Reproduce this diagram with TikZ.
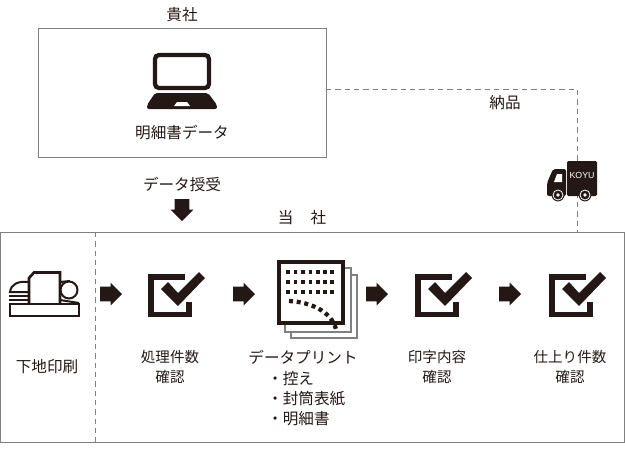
\documentclass[tikz,border=0pt]{standalone}
\usepackage{xcolor}
\usepackage{fontspec}
\setmainfont{Noto Sans CJK JP}
\newfontfamily\truckfont{Liberation Sans}
\usepackage{tikz}
\usetikzlibrary{shapes.arrows}
\definecolor{inkblack}{HTML}{231815}
\definecolor{framegray}{HTML}{808080}

\begin{document}
\begin{tikzpicture}[x=0.75pt,y=-0.75pt,text=inkblack,font=\fontsize{11.7pt}{15pt}\selectfont]
        \tikzstyle{frame}=[draw=framegray,line width=0.55pt]
        \tikzstyle{dashline}=[draw=framegray,line width=0.55pt,dash pattern=on 4pt off 3pt]
        \tikzstyle{blockarrow}=[single arrow,fill=inkblack,draw=none,inner sep=5.25pt,outer sep=0pt,minimum height=16.5pt,minimum width=16.5pt,single arrow head extend=3pt,anchor=tail]
        \tikzstyle{caption}=[align=center,inner sep=0pt]
        \tikzstyle{stepcaption}=[caption,font=\fontsize{10.9pt}{15pt}\selectfont]
        \tikzstyle{item}=[anchor=west,inner sep=0pt]
        \tikzset{
            pics/checkbox/.style={code={
                \draw[inkblack,line width=3.9pt] (2,2) rectangle (40,39.5);
                \fill[white] (36,-1) rectangle (43,27);
                \draw[white,line width=7pt,line join=miter] (15,10) -- (29,25) -- (53,0);
                \fill[inkblack] (12,14) -- (19,7) -- (29,18) -- (50,-3) -- (56,3) -- (29,31) -- cycle;
            }}
        }
        \useasboundingbox (0,0) rectangle (625,450);

        % boxes
        \node[frame,minimum width=216pt,minimum height=96.75pt,inner sep=0pt] (client) at (182,92.5) {};
        \node[frame,minimum width=468pt,minimum height=157.5pt,inner sep=0pt] (company) at (312,337) {};
        \coordinate (sendout) at (326,89);
        \coordinate (corner) at (577,89);
        \coordinate (arrive) at (577,232);
        \coordinate (divtop) at (95,232);
        \coordinate (divbot) at (95,442);
        \draw[dashline] (sendout) -- (corner) -- (arrive);
        \draw[dashline] (divtop) -- (divbot);

        % laptop
        \draw[inkblack,line width=3.2pt,rounded corners=3pt] (155,55) rectangle (209,88);
        \fill[inkblack,rounded corners=1.5pt] (155,93) -- (208,93) -- (217,105) -- (217,109) -- (147,109) -- (147,105) -- cycle;
        \fill[white] (177,102) -- (187,102) -- (190,106) -- (174,106) -- cycle;

        % truck
        \fill[inkblack,rounded corners=1pt] (567,161) rectangle (597,196);
        \fill[inkblack,rounded corners=1.5pt] (566,169) -- (553,169) -- (547,183) -- (547,196) -- (566,196) -- cycle;
        \fill[white] (554,182) -- (557,174) -- (562,174) -- (562,182) -- cycle;
        \foreach \wx in {558,585} {
            \fill[inkblack] (\wx,195) circle (6.4);
            \draw[white,line width=0.6pt] (\wx,195) circle (5);
            \fill[white] (\wx,195) circle (1.9);
        }
        \node[text=white,inner sep=0pt] (koyu) at (582,175) {\truckfont\fontsize{6.6pt}{6.6pt}\selectfont KOYU};

        % printer
        \draw[inkblack,line width=2pt] (10,304) rectangle (79,316);
        \draw[inkblack,line width=2pt] (29,303) -- (29,278) -- (34,272.5) -- (60,272.5) -- (60,303);
        \draw[inkblack,line width=1.5pt] (69,290) circle (8.5);
        \draw[inkblack,line width=1.5pt] (60,282) -- (70,281);
        \draw[inkblack,line width=1.5pt] (60,300) -- (79,303);
        \draw[inkblack,line width=1.5pt] (28,282) .. controls (18,281) and (11,284) .. (10,292) -- (28,292);
        \foreach \ly in {296,300} {
            \draw[inkblack,line width=1.2pt] (9,\ly) -- (28,\ly);
        }

        % check marks
        \pic at (149,275) {checkbox};
        \pic at (416,275) {checkbox};
        \pic at (550,275) {checkbox};

        % sheets
        \draw[framegray,line width=1.3pt] (291,332) -- (291,338) -- (357,338) -- (357,275) -- (351,275);
        \draw[framegray,line width=1.3pt] (285,324) -- (285,332) -- (351,332) -- (351,268) -- (344,268);
        \draw[fill=white,draw=inkblack,line width=3pt] (278.5,261.5) rectangle (342.5,323);
        \foreach \dy in {272,282,292} {
            \foreach \dx in {288,295.5,303,310.5,318,325,332} {
                \fill[inkblack] (\dx-1.7,\dy-2.2) rectangle (\dx+1.7,\dy+2.2);
            }
        }
        \draw[inkblack,line width=3.2pt,dash pattern=on 3pt off 2.8pt] (289,301) .. controls (310,302) and (331,311) .. (336,329);

        % arrows
        \node[blockarrow] (step1) at (100,294) {};
        \node[blockarrow] (step2) at (233,294) {};
        \node[blockarrow] (step3) at (366,294) {};
        \node[blockarrow] (step4) at (499,294) {};
        \node[blockarrow,shape border rotate=270] (handover) at (182,199) {};

        % labels
        \node[caption] (lclient) at (182,15) {貴社};
        \node[caption] (ldata) at (182,133) {明細書データ};
        \node[caption] (lhand) at (182,184) {データ授受};
        \node[caption] (ldeliver) at (505,103) {納品};
        \node[caption] (lcompany) at (302,218) {当\hspace{1.1em}社};
        \node[caption] (lprint) at (47,367) {下地印刷};
        \node[stepcaption] (lcount) at (170,367) {処理件数\\確認};
        \node[caption] (lsheet) at (303,357) {データプリント};
        \node[item] (lsheeta) at (267,379) {・控え};
        \node[item] (lsheetb) at (267,399) {・封筒表紙};
        \node[item] (lsheetc) at (267,419) {・明細書};
        \node[stepcaption] (lcontent) at (437,367) {印字内容\\確認};
        \node[stepcaption] (lfinish) at (570,367) {仕上り件数\\確認};
    \end{tikzpicture}
\end{document}
